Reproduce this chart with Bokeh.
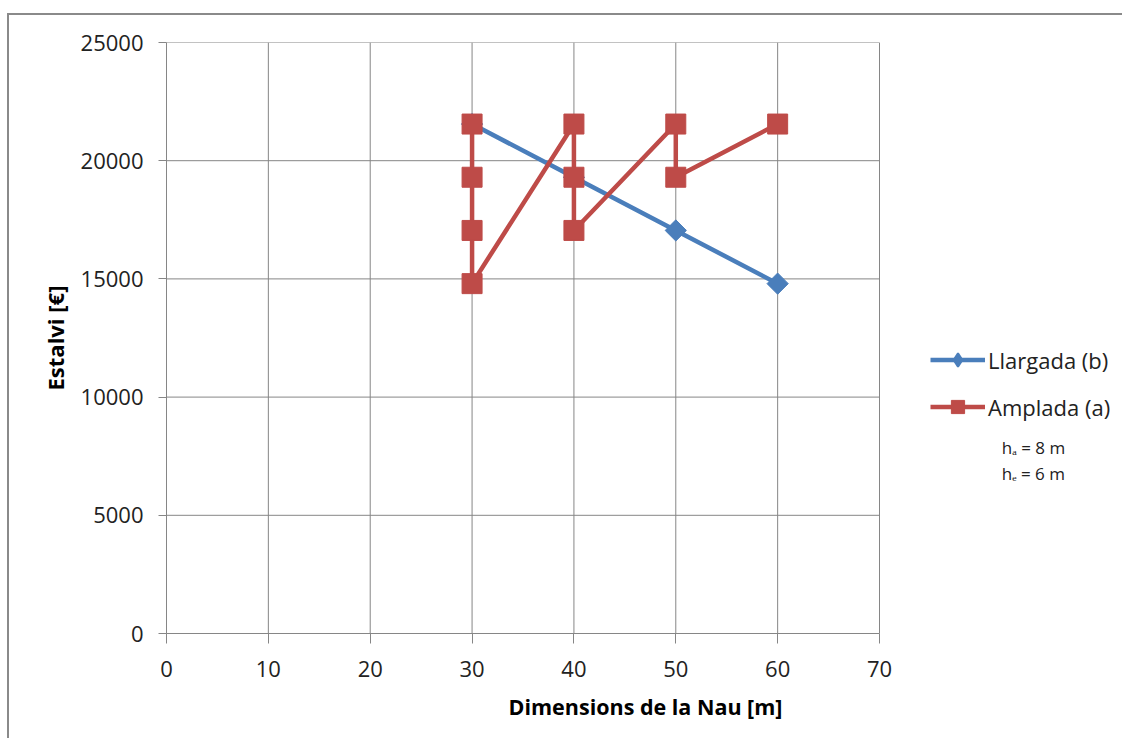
import math
from bokeh.plotting import figure
from bokeh.embed import file_html
from bokeh.resources import INLINE
from bokeh.models import Legend, LegendItem, Label, FixedTicker, Range1d
from bokeh.core.properties import value

# Data
llargada_x = [30, 40, 50, 60]
llargada_y = [21550, 19300, 17050, 14800]
amplada_x = [30, 30, 30, 30, 40, 40, 40, 50, 50, 60]
amplada_y = [21550, 19300, 17050, 14800, 21550, 19300, 17050, 21550, 19300, 21550]
x_ticks = [0, 10, 20, 30, 40, 50, 60, 70]
y_ticks = [0, 5000, 10000, 15000, 20000, 25000]

BLUE = "#4A7EBB"
RED = "#BE4B48"
GRID = "#868686"
FONT = "Open Sans"

W, H = 1115, 725
LEFT, TOP, BOTTOM = 157, 27, 107
PLOT_W = 713  # pixel width of the 0..70 axis
frame_w = W - LEFT
x_end = x_ticks[-1] * frame_w / PLOT_W

p = figure(width=W, height=H, output_backend="svg", toolbar_location=None,
           x_range=Range1d(0, x_end), y_range=Range1d(y_ticks[0], y_ticks[-1]),
           min_border_left=LEFT, min_border_right=0, min_border_top=TOP, min_border_bottom=BOTTOM)
p.outline_line_color = None
p.background_fill_color = "white"
p.border_fill_color = "white"
p.xgrid.visible = False
p.ygrid.visible = False
p.styles = {"border-left": "2px solid #8a8a8a", "border-top": "2px solid #8a8a8a",
            "margin-left": "7px", "margin-top": "13px"}

for ax in (p.xaxis[0], p.yaxis[0]):
    ax.axis_line_color = GRID
    ax.major_tick_line_color = GRID
    ax.minor_tick_line_color = None
    ax.major_tick_in = 0
    ax.major_label_text_font = FONT
    ax.major_label_text_font_size = "22px"
    ax.major_label_text_color = "#222222"
    ax.axis_label_text_font = FONT
    ax.axis_label_text_font_style = "bold"
    ax.axis_label_text_color = "#000000"

p.xaxis.ticker = FixedTicker(ticks=x_ticks)
p.yaxis.ticker = FixedTicker(ticks=y_ticks)
p.xaxis.bounds = (x_ticks[0], x_ticks[-1])
p.xaxis.major_tick_out = 10
p.yaxis.major_tick_out = 8
p.xaxis.major_label_standoff = 17
p.yaxis.major_label_standoff = 15
p.xaxis.axis_label = "Dimensions de la Nau [m]"
p.yaxis.axis_label = "Estalvi [€]"
p.xaxis.axis_label_text_font_size = "21.5px"
p.yaxis.axis_label_text_font_size = "22px"
p.xaxis.axis_label_standoff = 12
p.yaxis.axis_label_standoff = 8

# grid lines limited to the 0..70 plotting area
p.segment(x0=x_ticks, y0=[y_ticks[0]] * len(x_ticks), x1=x_ticks, y1=[y_ticks[-1]] * len(x_ticks),
          line_color=GRID, line_width=1)
p.segment(x0=[x_ticks[0]] * len(y_ticks), y0=y_ticks, x1=[x_ticks[-1]] * len(y_ticks), y1=y_ticks,
          line_color=GRID, line_width=1)

l1 = p.line(llargada_x, llargada_y, line_color=BLUE, line_width=4.5)
# diamond marker (used for the legend swatch), covered by the rotated squares in the plot
m1_leg = p.scatter(llargada_x, llargada_y, marker="diamond", size=12,
                   fill_color=BLUE, line_color=BLUE, line_width=2)
m1 = p.scatter(llargada_x, llargada_y, marker="square", size=15, angle=math.pi / 4,
               fill_color=BLUE, line_color=BLUE)
l2 = p.line(amplada_x, amplada_y, line_color=RED, line_width=4.5)
m2 = p.scatter(amplada_x, amplada_y, marker="square", size=20, fill_color=RED, line_color=RED)

legend = Legend(items=[LegendItem(label="Llargada (b)", renderers=[l1, m1_leg]),
                       LegendItem(label="Amplada (a)", renderers=[l2, m2])],
                location=(764, 210), orientation="vertical",
                border_line_color=None, background_fill_alpha=0,
                padding=0, margin=0, spacing=14, glyph_width=55, glyph_height=33,
                label_standoff=3, label_text_font=FONT, label_text_font_size="22px",
                label_text_color="#222222")
p.add_layout(legend)

p.add_layout(Label(x=82.0, y=7870, text="hₐ = 8 m", text_font=FONT, text_font_size="17px",
                   text_color="#222222", text_baseline="middle"))
p.add_layout(Label(x=82.0, y=6770, text="hₑ = 6 m", text_font=FONT, text_font_size="17px",
                   text_color="#222222", text_baseline="middle"))

open("out.html", "w").write(file_html(p, INLINE))
